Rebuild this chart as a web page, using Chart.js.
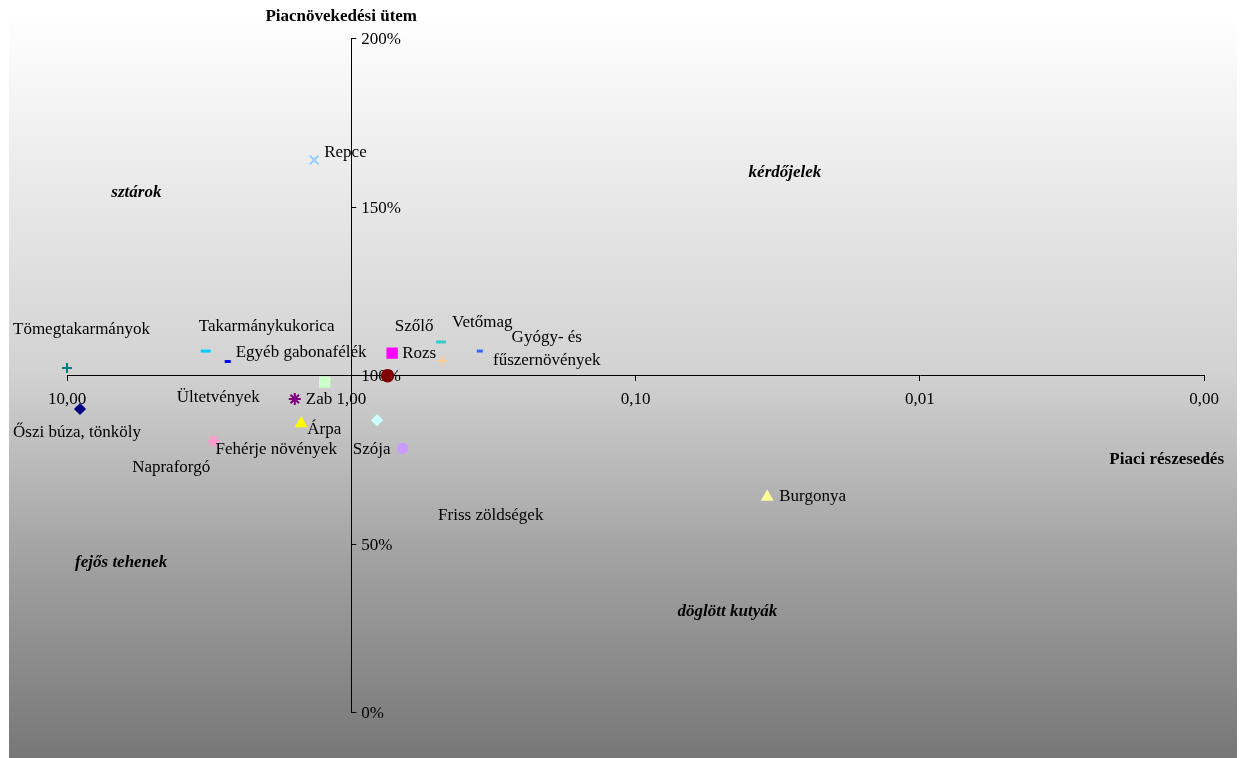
<!DOCTYPE html>
<html>
<head>
<meta charset="utf-8">
<script src="https://cdn.jsdelivr.net/npm/chart.js@4.4.1/dist/chart.umd.min.js"></script>
<style>
  html, body { margin: 0; padding: 0; background: #fff; }
  #wrap { width: 1245px; height: 758px; position: relative; }
</style>
</head>
<body>
<div id="wrap"><canvas id="canvas"></canvas></div>
<script>
// adatok
var names = ['Tömegtakarmányok', 'Őszi búza, tönköly', 'Takarmánykukorica', 'Egyéb gabonafélék',
  'Ültetvények', 'Zab', 'Árpa', 'Fehérje növények', 'Napraforgó', 'Repce', 'Rozs', 'Szőlő',
  'Vetőmag', 'Gyógy- és\nfűszernövények', '', 'Friss zöldségek', 'Szója', 'Burgonya']
var share = [10.0, 9.0, 3.25, 2.72, 1.24, 1.58, 1.5, 3.05, 5.9, 1.35, 0.718, 0.48,
  0.483, 0.353, 0.745, 0.811, 0.66, 0.0344]
var growth = [102.1, 89.9, 107.1, 104.0, 97.9, 92.9, 85.6, 80.4, 72.5, 163.8, 106.5, 104.2,
  109.8, 107.1, 99.8, 86.6, 78.2, 63.8]
var xTicks = [10, 1, 0.1, 0.01, 0.001]
var yTicks = [0, 50, 100, 150, 200]
var quadrants = ['sztárok', 'kérdőjelek', 'fejős tehenek', 'döglött kutyák']
var quadrantShare = [5.7, 0.0298, 6.45, 0.0475]
var quadrantGrowth = [154, 160.2, 44.2, 29.7]

// megjelenés
var colors = ['#008080', '#000080', '#00ccff', '#0000ff', '#ccffcc', '#800080', '#ffff00', '#ff99cc',
  '#ff99cc', '#99ccff', '#ff00ff', '#ffcc99', '#33cccc', '#3366ff', '#800000', '#ccffff', '#cc99ff', '#ffff99']
var styles = ['cross', 'rectRot', 'line', 'line', 'rect', 'star', 'triangle', 'star', 'circle', 'crossRot',
  'rect', 'cross', 'line', 'line', 'circle', 'rectRot', 'circle', 'triangle']
var radii = [5, 5, 5, 3, 7, 6, 6, 6, 0, 6, 7, 5, 5, 3, 6, 5, 5, 6]
var labelPos = [
  { dx: -54, dy: -38 }, { dx: -67, dy: 23 }, { dx: -7, dy: -25 }, { dx: 8, dy: -9 },
  { dx: -148, dy: 15 }, { dx: 11, dy: 1 }, { dx: 6, dy: 6 }, { dx: 2, dy: 8 },
  { dx: 0, dy: 0 }, { dx: 10, dy: -7 }, { dx: 10, dy: 0 }, { dx: -47, dy: -34 },
  { dx: 11, dy: -19 }, { dx: 67, dy: -14, align: 'center' }, { dx: 0, dy: 0 },
  { dx: 61, dy: 95 }, { dx: -12, dy: 1, align: 'right' }, { dx: 12, dy: 0 }
]

var serif = '"Liberation Serif", "Times New Roman", serif'

var datasets = names.map(function (name, i) {
  var st = styles[i]
  return {
    label: name,
    data: [{ x: share[i], y: growth[i] }],
    clip: false,
    pointStyle: st,
    pointRadius: radii[i],
    pointHoverRadius: radii[i],
    backgroundColor: colors[i],
    borderColor: colors[i],
    pointBorderWidth: st === 'line' ? 3 : (st === 'star' || st === 'crossRot' || st === 'cross') ? 2 : 1.5
  }
})

var background = {
  id: 'background',
  beforeDraw: function (chart) {
    var ctx = chart.ctx
    var g = ctx.createLinearGradient(0, 14, 0, 758)
    g.addColorStop(0, '#ffffff')
    g.addColorStop(0.48, '#d2d2d2')
    g.addColorStop(0.73, '#a2a2a2')
    g.addColorStop(1, '#777777')
    ctx.save()
    ctx.fillStyle = g
    ctx.fillRect(9, 14, 1228, 744)
    ctx.restore()
  },
  // y tengely: osztások és feliratok jobbra, a pontok alatt
  beforeDatasetsDraw: function (chart) {
    var ctx = chart.ctx
    var ys = chart.scales.y
    var axisX = chart.scales.x.getPixelForValue(1)
    ctx.save()
    ctx.fillStyle = '#000'
    ctx.strokeStyle = '#000'
    ctx.lineWidth = 1
    ctx.font = '17px ' + serif
    ctx.textAlign = 'left'
    ctx.textBaseline = 'middle'
    yTicks.forEach(function (v) {
      var py = Math.round(ys.getPixelForValue(v)) + 0.5
      ctx.beginPath()
      ctx.moveTo(axisX, py)
      ctx.lineTo(axisX + 5, py)
      ctx.stroke()
      ctx.fillText(v + '%', axisX + 10, py + 1)
    })
    ctx.restore()
  }
}

var texts = {
  id: 'texts',
  afterDatasetsDraw: function (chart) {
    var ctx = chart.ctx
    var xs = chart.scales.x
    var ys = chart.scales.y
    var axisX = xs.getPixelForValue(1)
    ctx.save()
    ctx.fillStyle = '#000'
    ctx.textBaseline = 'middle'

    // adatfeliratok
    ctx.font = '17px ' + serif
    chart.data.datasets.forEach(function (ds, i) {
      if (!ds.label) return
      var pt = chart.getDatasetMeta(i).data[0]
      var lp = labelPos[i]
      var lines = ds.label.split('\n')
      ctx.textAlign = lp.align || 'left'
      lines.forEach(function (line, k) {
        ctx.fillText(line, pt.x + lp.dx, pt.y + lp.dy + k * 23)
      })
    })

    // negyedek
    ctx.font = 'italic bold 17px ' + serif
    ctx.textAlign = 'center'
    quadrants.forEach(function (q, i) {
      ctx.fillText(q, xs.getPixelForValue(quadrantShare[i]), ys.getPixelForValue(quadrantGrowth[i]))
    })

    // tengelycímek
    ctx.font = 'bold 17px ' + serif
    ctx.textAlign = 'center'
    ctx.fillText('Piacnövekedési ütem', axisX - 10, chart.chartArea.top - 21)
    ctx.textAlign = 'right'
    ctx.fillText('Piaci részesedés', chart.chartArea.right + 20, ys.getPixelForValue(100) + 85)
    ctx.restore()
  }
}

var context = document.getElementById('canvas').getContext('2d')
new Chart(context, {
  type: 'scatter',
  data: { datasets: datasets },
  plugins: [background, texts],
  options: {
    responsive: true,
    maintainAspectRatio: false,
    animation: false,
    layout: { padding: { left: 67, right: 41, top: 38, bottom: 46 } },
    plugins: {
      legend: { display: false },
      tooltip: { enabled: false }
    },
    scales: {
      x: {
        type: 'logarithmic',
        reverse: true,
        min: 0.001,
        max: 10,
        position: { y: 100 },
        afterBuildTicks: function (scale) {
          scale.ticks = xTicks.map(function (v) { return { value: v, major: false } })
        },
        border: { display: true, color: '#000', width: 1 },
        grid: { drawOnChartArea: false, color: '#000', tickLength: 5 },
        ticks: {
          color: '#000',
          font: { family: serif, size: 17 },
          padding: 9,
          maxRotation: 0,
          autoSkip: false,
          callback: function (v) { return Number(v).toFixed(2).replace('.', ',') }
        }
      },
      y: {
        min: 0,
        max: 200,
        position: { x: 1 },
        afterBuildTicks: function (scale) {
          scale.ticks = yTicks.map(function (v) { return { value: v } })
        },
        border: { display: true, color: '#000', width: 1 },
        grid: { display: false },
        ticks: { display: false }
      }
    }
  }
})
</script>
</body>
</html>
